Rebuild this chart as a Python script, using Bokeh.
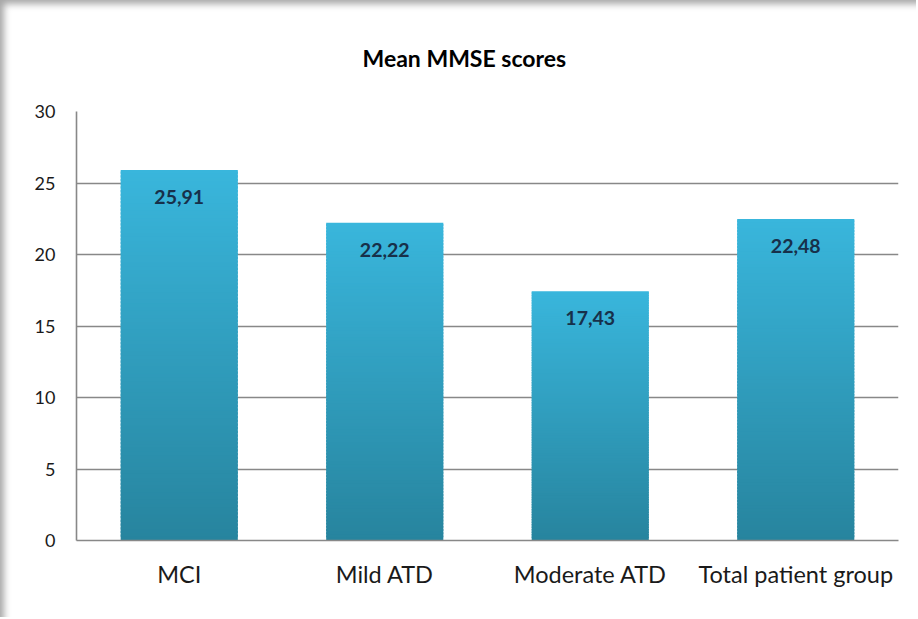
from bokeh.plotting import figure
from bokeh.models import ColumnDataSource, FactorRange, Range1d, FixedTicker, Title
from bokeh.embed import file_html
from bokeh.resources import INLINE
from bokeh.core.properties import value

# ---- data ----
categories = ["MCI", "Mild ATD", "Moderate ATD", "Total patient group"]
mean_scores = [25.91, 22.22, 17.43, 22.48]
value_labels = ["25,91", "22,22", "17,43", "22,48"]
y_ticks = [0, 5, 10, 15, 20, 25, 30]
chart_title = "Mean MMSE scores"

FONT = "Lato"
TOP_COLOR = (0x39, 0xb6, 0xdc)
BOTTOM_COLOR = (0x27, 0x84, 0x9e)
N_SEG = 100
BAR_WIDTH = 0.57


def mix(t):
    r = [int(round(BOTTOM_COLOR[j] + (TOP_COLOR[j] - BOTTOM_COLOR[j]) * t)) for j in range(3)]
    return "#%02x%02x%02x" % tuple(r)


p = figure(
    x_range=FactorRange(*categories, range_padding=0),
    y_range=Range1d(0, 30),
    width=916, height=617,
    output_backend="svg", toolbar_location=None,
    min_border_left=76, min_border_right=18,
    min_border_top=111, min_border_bottom=77,
)
p.border_fill_color = None
p.styles = {"background-color": "white",
            "box-shadow": "inset 11px 11px 7px -7px rgba(0,0,0,0.35)"}

# gradient bars built from stacked slices of each value
seg_x, seg_b, seg_t, seg_c = [], [], [], []
for cat, v in zip(categories, mean_scores):
    for k in range(N_SEG):
        seg_x.append(cat)
        seg_b.append(v * k / N_SEG)
        seg_t.append(min(v, v * (k + 1.6) / N_SEG))
        seg_c.append(mix((k + 0.5) / N_SEG))
seg_src = ColumnDataSource(dict(x=seg_x, bottom=seg_b, top=seg_t, color=seg_c))
p.vbar(x="x", bottom="bottom", top="top", width=BAR_WIDTH, source=seg_src,
       fill_color="color", line_color=None)

lab_src = ColumnDataSource(dict(x=categories, y=mean_scores, t=value_labels))
p.text(x="x", y="y", text="t", source=lab_src, text_align="center",
       text_baseline="middle", y_offset=27, text_font=value(FONT),
       text_font_size="19.5px", text_font_style="bold", text_color="#17304a")

p.add_layout(Title(text=chart_title, align="left", text_font=FONT,
                   text_font_size="23px", text_font_style="bold",
                   text_color="#000000", offset=286, standoff=80), "above")

p.outline_line_color = None
p.background_fill_color = "white"

p.xgrid.grid_line_color = None
p.ygrid.grid_line_color = "#888888"
p.ygrid.grid_line_width = 1.6
p.yaxis.ticker = FixedTicker(ticks=y_ticks)

for ax in (p.xaxis, p.yaxis):
    ax.axis_line_color = "#888888"
    ax.axis_line_width = 1.6
    ax.major_tick_line_color = None
    ax.minor_tick_line_color = None
    ax.major_label_text_font = FONT
    ax.major_label_text_color = "#1a1a1a"

p.yaxis.major_label_text_font_size = "18px"
p.yaxis.major_label_standoff = 15
p.xaxis.major_label_text_font_size = "23.5px"
p.xaxis.major_label_standoff = 13

open("out.html", "w").write(file_html(p, INLINE))
